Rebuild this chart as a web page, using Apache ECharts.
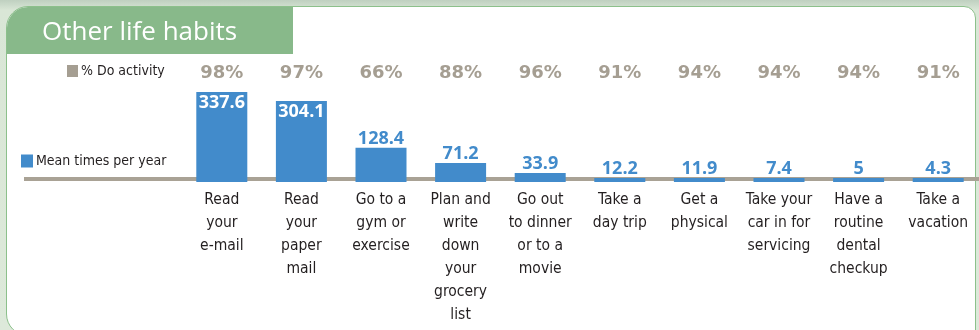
<!DOCTYPE html>
<html>
<head>
<meta charset="utf-8">
<script src="https://cdn.jsdelivr.net/npm/echarts@6/dist/echarts.min.js"></script>
<style>
  html, body { margin: 0; padding: 0; width: 979px; height: 330px; overflow: hidden; }
  body { background: linear-gradient(180deg, #bfd0c0 0px, #d9e6d6 10px, #dde9da 100%); position: relative; }
  #panel { position: absolute; left: 6px; top: 6px; width: 970px; height: 330px; background: #fff;
           border: 1.5px solid #8cc08b; border-radius: 22px 12px 0 22px; box-sizing: border-box; }
  #tab { position: absolute; left: 7px; top: 7px; width: 286px; height: 47px; background: #88b98a; border-top-left-radius: 21px; }
  #chart { position: absolute; left: 0; top: 0; width: 979px; height: 330px; }
</style>
</head>
<body>
<div id="panel"></div>
<div id="tab"></div>
<div id="chart"></div>
<script>
const categories = [
  "Read\nyour\ne-mail",
  "Read\nyour\npaper\nmail",
  "Go to a\ngym or\nexercise",
  "Plan and\nwrite\ndown\nyour\ngrocery\nlist",
  "Go out\nto dinner\nor to a\nmovie",
  "Take a\nday trip",
  "Get a\nphysical",
  "Take your\ncar in for\nservicing",
  "Have a\nroutine\ndental\ncheckup",
  "Take a\nvacation"
];
const meanTimes = [337.6, 304.1, 128.4, 71.2, 33.9, 12.2, 11.9, 7.4, 5, 4.3];
const pctDo = [98, 97, 66, 88, 96, 91, 94, 94, 94, 91];
const pctLabels = pctDo.map(v => v + '%');

const BLUE = '#428bcb';
const GREY = '#a59e92';
const condensed = "'Liberation Sans Narrow', 'DejaVu Sans Condensed', sans-serif";

const chart = echarts.init(document.getElementById('chart'), null, { renderer: 'canvas' });
const maxVal = Math.max(...meanTimes);

chart.setOption({
  animation: false,
  backgroundColor: 'transparent',
  title: {
    text: 'Other life habits',
    left: 37, top: 15,
    textStyle: { color: '#fff', fontFamily: "'Open Sans', sans-serif", fontSize: 26, fontWeight: 'normal' }
  },
  legend: [
    {
      data: ['% Do activity'], left: 67, top: 64, selectedMode: false,
      icon: 'rect', itemWidth: 11, itemHeight: 12, itemGap: 0, padding: 0,
      textStyle: { fontFamily: condensed, fontSize: 14, color: '#231f20', padding: [0, 0, 0, -2] }
    },
    {
      data: ['Mean times per year'], left: 21, top: 154, selectedMode: false,
      icon: 'rect', itemWidth: 12, itemHeight: 13, itemGap: 0, padding: 0,
      textStyle: { fontFamily: condensed, fontSize: 14, color: '#231f20', padding: [0, 0, 0, -2] }
    }
  ],
  graphic: [
    { type: 'rect', z: 0, shape: { x: 24, y: 177, width: 955, height: 4 }, style: { fill: '#a9a295' } }
  ],
  grid: { left: 182, right: 1, top: 92, bottom: 148 },
  xAxis: [
    {
      type: 'category', data: categories, position: 'bottom',
      axisLine: { show: false }, axisTick: { show: false },
      axisLabel: { interval: 0, margin: 6, fontFamily: condensed, fontSize: 15.5, lineHeight: 23, color: '#231f20', align: 'center' }
    },
    {
      type: 'category', data: pctLabels, position: 'top',
      axisLine: { show: false }, axisTick: { show: false },
      axisLabel: { interval: 0, margin: 10, fontFamily: "'DejaVu Sans', sans-serif", fontWeight: 'bold', fontSize: 18, color: GREY }
    }
  ],
  yAxis: { type: 'value', min: 0, max: maxVal, show: false, splitLine: { show: false } },
  series: [
    {
      name: '% Do activity', type: 'bar', data: [], itemStyle: { color: GREY }
    },
    {
      name: 'Mean times per year', type: 'bar', xAxisIndex: 0, barWidth: 51, barGap: '-100%', barMinHeight: 4,
      itemStyle: { color: BLUE },
      data: meanTimes.map(v => v > 200
        ? { value: v, label: { position: 'insideTop', distance: 2, color: '#fff' } }
        : v),
      label: {
        show: true, position: 'top', distance: 0, color: BLUE,
        fontFamily: "'Open Sans', sans-serif", fontWeight: 'bold', fontSize: 18
      }
    }
  ]
});
</script>
</body>
</html>
